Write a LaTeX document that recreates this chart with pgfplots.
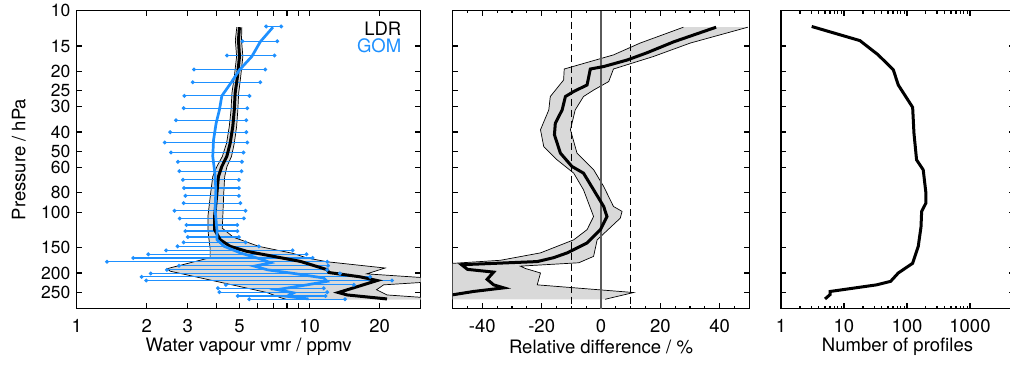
\documentclass[border=0pt]{standalone}
\usepackage{fontspec}
\setmainfont{TeX Gyre Heros}
\usepackage{pgfplots}
\pgfplotsset{compat=1.18}
\usepgfplotslibrary{fillbetween}

\definecolor{gomblue}{RGB}{30,144,255}
\definecolor{bandgray}{RGB}{217,217,217}
\definecolor{zeroline}{RGB}{90,90,90}

\pgfplotsset{
  every axis/.append style={
    scale only axis, height=298pt,
    ymode=log, y dir=reverse, ymin=10, ymax=300,
    ytick={10,15,20,25,30,40,50,60,80,100,150,200,250},
    yminorticks=false,
    tick align=inside,
    major tick length=5.5pt, minor tick length=3pt,
    axis line style={line width=1.2pt},
    every tick/.style={black, line width=1.1pt},
    xticklabel style={yshift=-5pt},
    yticklabel style={font=\fontsize{17.5}{19}\selectfont},
    every axis x label/.style={at={(axis description cs:0.5,-0.128)}, anchor=center},
    every axis y label/.style={at={(axis description cs:-0.168,0.5)}, rotate=90, anchor=center},
  },
}

\begin{document}
\fontsize{18.5}{22}\selectfont
\begin{tikzpicture}

% ---------------- water vapour profiles ----------------
\begin{axis}[at={(76.7pt,-308.5pt)}, anchor=south west, width=344pt,
  xmode=log, xmin=1, xmax=30,
  xtick={1,2,3,4,5,6,7,8,9,10,20}, xticklabels={1,2,3,,5,,,,,10,20},
  xminorticks=false,
  yticklabels={10,15,20,25,30,40,50,60,80,100,150,200,250},
  xlabel={Water vapour vmr / ppmv}, ylabel={Pressure / hPa}]

% LDR spread
\addplot[name path=ldrL, black, line width=0.7pt] table {
x y
4.87 12.1
4.80 14.0
4.86 16.9
4.75 21.3
4.64 25.7
4.60 31.1
4.52 37.6
4.40 45.5
4.22 52.9
4.00 59.3
3.84 66.5
3.76 80.4
3.66 104.9
3.66 122
3.70 137
3.74 150
3.74 168
2.44 190.5
2.52 196
6.56 250
7.50 265
8.00 271
};
\addplot[name path=ldrR, black, line width=0.7pt] table {
x y
5.12 12.1
5.10 14.0
5.17 16.9
5.06 21.3
4.96 25.7
4.92 31.1
4.86 37.6
4.75 45.5
4.62 52.9
4.42 59.3
4.32 66.5
4.28 80.4
4.22 120
4.71 133
6.05 147.6
8.50 160
9.75 168.5
11.9 176
21.1 189
17.6 202
31.0 211
36.0 220
20.8 229
19.4 242
21.5 257
30.0 264
35.0 271
};
\addplot[fill=bandgray, draw=none] fill between[of=ldrL and ldrR];

% GOM standard deviation
\addplot[gomblue, line width=1.2pt, mark=*, mark size=1.3pt, unbounded coords=jump] table {
x y
6.51 12.0
7.55 12.0
nan nan
5.15 14.2
7.26 14.2
nan nan
4.42 16.7
7.07 16.7
nan nan
3.19 19.6
6.45 19.6
nan nan
3.15 22.7
6.14 22.7
nan nan
2.90 26.5
5.52 26.5
nan nan
2.88 30.5
5.40 30.5
nan nan
2.67 35.0
5.35 35.0
nan nan
2.52 40.1
5.35 40.1
nan nan
2.39 45.1
5.40 45.1
nan nan
2.54 50.6
5.20 50.6
nan nan
2.72 56.2
5.12 56.2
nan nan
2.76 62.6
5.10 62.6
nan nan
2.86 69.1
4.97 69.1
nan nan
2.89 75.9
4.97 75.9
nan nan
2.93 82.9
4.97 82.9
nan nan
2.88 90.1
5.04 90.1
nan nan
2.63 98.3
5.31 98.3
nan nan
2.77 107.3
5.22 107.3
nan nan
2.96 115.7
4.89 115.7
nan nan
2.93 124.0
4.90 124.0
nan nan
3.00 132.7
4.97 132.7
nan nan
2.88 141.0
5.31 141.0
nan nan
2.71 147.6
6.06 147.6
nan nan
2.42 154.5
8.45 154.5
nan nan
2.03 161.6
9.70 161.6
nan nan
1.75 168.5
10.3 168.5
nan nan
1.35 176.0
11.9 176.0
nan nan
2.75 184.0
12.0 184.0
nan nan
2.44 193.0
11.9 193.0
nan nan
2.08 201.0
13.5 201.0
nan nan
1.90 209.0
18.2 209.0
nan nan
1.99 218.0
22.6 218.0
nan nan
4.37 229.0
15.5 229.0
nan nan
4.04 238.0
11.5 238.0
nan nan
4.10 249.0
11.9 249.0
nan nan
4.92 260.0
11.7 260.0
nan nan
5.51 270.0
14.2 270.0
};

% LDR mean
\addplot[black, line width=3pt] table {
x y
5.00 12.1
4.95 14.0
5.00 16.9
4.90 21.3
4.79 25.7
4.75 31.1
4.68 37.6
4.56 45.5
4.41 52.9
4.20 59.3
4.06 66.5
4.00 80.4
3.91 104.9
3.91 122
4.13 136.8
4.56 147.6
5.38 156.3
7.00 165.5
9.12 175.2
11.9 192.6
12.1 199
16.5 209
19.5 218
13.3 250
14.5 257
21.5 269
};

% GOM mean
\addplot[gomblue, line width=2.7pt] table {
x y
6.96 12.1
6.14 14.3
5.65 16.9
5.00 19.7
4.59 22.9
4.20 26.5
4.10 31.1
3.97 36.2
3.87 43.8
3.84 52.9
3.92 64
3.96 77.4
3.93 97.2
4.00 122
4.00 136.8
4.15 142
4.30 147.6
5.04 159
6.30 172
6.80 178
5.80 185
6.60 193
8.54 201
11.5 211.8
11.9 220
9.75 229
7.24 242
8.54 251
8.00 261
9.90 269
};

\node[anchor=east, text=black] at (axis description cs:0.962,0.938) {LDR};
\node[anchor=east, text=gomblue] at (axis description cs:0.962,0.881) {GOM};
\end{axis}

% ---------------- relative difference ----------------
\begin{axis}[at={(452.7pt,-308.5pt)}, anchor=south west, width=296.6pt,
  xmin=-50, xmax=50,
  xtick={-40,-20,0,20,40}, xticklabels={-40,-20,0,20,40},
  minor xtick={-50,-45,...,50},
  yticklabels={},
  xlabel={Relative difference / \%}]

\addplot[name path=rdL, black, line width=0.7pt] table {
x y
27.8 12.1
13.2 14.5
4.2 16.6
-12.4 19.5
-12.6 22.1
-17.1 26.7
-17.6 31.1
-20.4 39
-19.3 47.3
-14.8 55
-9.2 64
-5.9 77.4
-2.5 105
-4.7 122
-9.2 137
-20.4 159
-33.9 173
-52 180
-60 270
};
\addplot[name path=rdR, black, line width=0.7pt] table {
x y
49.5 12.1
30.1 14.5
17.7 16.9
4.2 19.5
2.6 22.5
-2.5 24.8
-5.9 26.7
-8.7 31.1
-10.3 39
-8.1 50.9
-2.5 61.5
0.9 74.5
4.2 93.6
7.1 99
6.5 107
-1.3 137
-2.5 165.5
-7.5 178
-27.2 185
-25.5 190
-20.4 200
-21.5 229
11 250
1.4 270
};
\addplot[fill=bandgray, draw=none] fill between[of=rdL and rdR];

\addplot[zeroline, line width=1.4pt] coordinates {(0,10) (0,300)};
\addplot[black, line width=1pt, dash pattern=on 7pt off 4pt] coordinates {(-10,10) (-10,300)};
\addplot[black, line width=1pt, dash pattern=on 7pt off 4pt] coordinates {(10,10) (10,300)};

\addplot[black, line width=3pt] table {
x y
38.8 12.1
24.5 14.3
15.5 16.2
8.8 17.6
0.9 18.96
-3.6 19.5
-4.7 23.4
-9.2 25.2
-12 26.7
-13.1 31.1
-15.4 36.2
-15.7 41.3
-13.7 50.9
-9.8 59.3
-5.9 64
-2.5 77.4
0.9 93.6
2.0 105
-0.2 122
-4.7 142
-11.4 159
-16 168
-21.5 175.6
-47 182
-45 192
-36.2 198
-38.4 215
-36.2 229
-32.8 237
-43 247
-49.6 256
-56 265
};
\end{axis}

% ---------------- number of profiles ----------------
\begin{axis}[at={(781pt,-308.5pt)}, anchor=south west, width=233pt,
  xmode=log, xmin=1, xmax=5000,
  xtick={1,10,100,1000}, xticklabels={1,10,100,1000},
  yticklabels={},
  xlabel={Number of profiles}]
\addplot[black, line width=3pt] table {
x y
3.07 12.0
17.9 14.1
35 16.6
60.7 19.7
72.8 23.4
123 30.2
129 40.5
142 55
181 61.6
200 80.4
200 90
171 99
167 118
151 147.6
123 179
72.8 200
55 220
33 229
6.0 247
6.0 256
5.0 269
};
\end{axis}

% page frame: the last panel runs past the right edge
\pgfresetboundingbox
\useasboundingbox (0pt,0pt) rectangle (1010pt,-365pt);
\end{tikzpicture}
\end{document}
